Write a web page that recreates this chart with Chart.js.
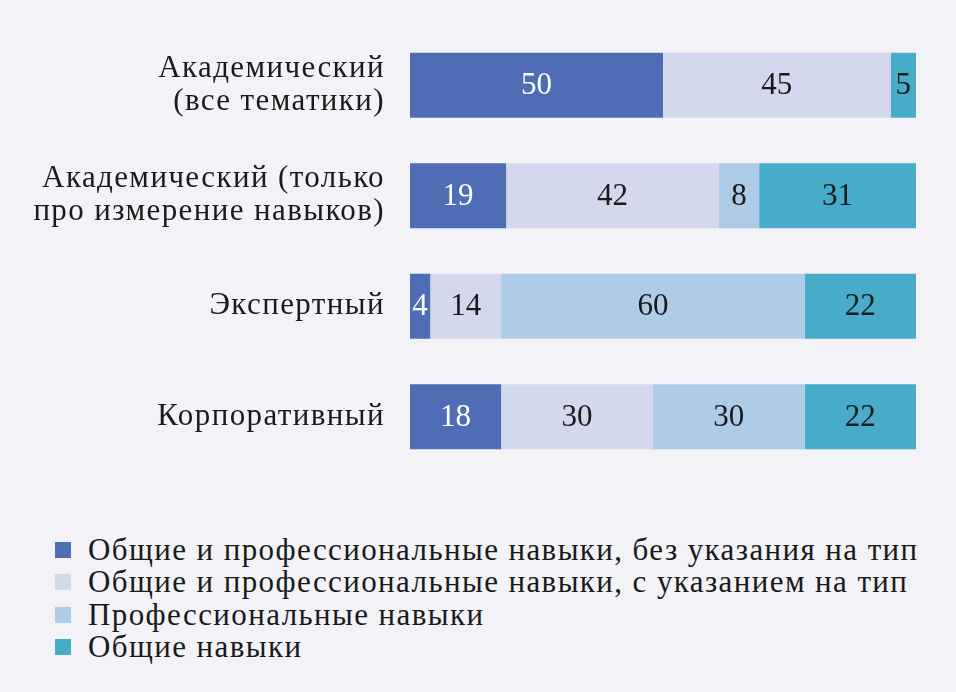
<!DOCTYPE html>
<html>
<head>
<meta charset="utf-8">
<script src="https://cdn.jsdelivr.net/npm/chart.js@4"></script>
<style>
  html, body { margin: 0; padding: 0; background: #f2f2f7; }
  #wrap { position: absolute; left: 0; top: 0; width: 956px; height: 500px; }
  #legend { position: absolute; left: 55px; top: 534px; font-family: "Liberation Serif", serif; font-size: 31px; letter-spacing: 1.4px; color: #1a1a1a; line-height: 32.3px; }
  #legend div { white-space: nowrap; }
  #legend span { display: inline-block; width: 16px; height: 16px; margin-right: 17px; vertical-align: 2px; }
</style>
</head>
<body>
<div id="wrap"><canvas id="grafico"></canvas></div>
<div id="legend"></div>
<script>
const categorias = [
    ['Академический', '(все тематики)'],
    ['Академический (только', 'про измерение навыков)'],
    'Экспертный',
    'Корпоративный'
];
const series = [
    'Общие и профессиональные навыки, без указания на тип',
    'Общие и профессиональные навыки, с указанием на тип',
    'Профессиональные навыки',
    'Общие навыки'
];
const sinTipo     = [50, 19, 4, 18];
const conTipo     = [45, 42, 14, 30];
const profesional = [0, 8, 60, 30];
const generales   = [5, 31, 22, 22];
const colores = ['#4e6db4', '#d3d8ec', '#aecbe8', '#47acc8'];
const colorTexto = ['#ffffff', '#1a1a1a', '#1a1a1a', '#1a1a1a'];
const fuente = '"Liberation Serif", serif';

const valores = [sinTipo, conTipo, profesional, generales];

// espaciado de letras para acercarse al ancho de la tipografía original
const espaciado = {
    id: 'espaciado',
    beforeDraw(chart) { chart.ctx.letterSpacing = '1.4px'; }
};

const etiquetas = {
    id: 'etiquetas',
    afterDatasetsDraw(chart) {
        const ctx = chart.ctx;
        ctx.save();
        ctx.letterSpacing = '0px';
        ctx.font = '31px ' + fuente;
        ctx.textAlign = 'center';
        ctx.textBaseline = 'middle';
        chart.data.datasets.forEach((ds, i) => {
            chart.getDatasetMeta(i).data.forEach((bar, j) => {
                const v = ds.data[j];
                if (!v) return;
                const x = (bar.x + bar.base) / 2;
                ctx.fillStyle = colorTexto[i];
                ctx.fillText(String(v), x, bar.y + 1);
            });
        });
        ctx.restore();
    }
};

new Chart(document.getElementById('grafico'), {
    type: 'bar',
    data: {
        labels: categorias,
        datasets: valores.map((v, i) => ({
            label: series[i],
            data: v,
            backgroundColor: colores[i],
            borderWidth: 0,
            categoryPercentage: 1,
            barPercentage: 0.59
        }))
    },
    options: {
        indexAxis: 'y',
        responsive: true,
        maintainAspectRatio: false,
        animation: false,
        layout: { padding: { top: 30, bottom: 28, right: 40, left: 0 } },
        plugins: { legend: { display: false }, tooltip: { enabled: false } },
        scales: {
            x: { stacked: true, min: 0, max: 100, display: false },
            y: {
                stacked: true,
                grid: { display: false },
                border: { display: false },
                ticks: { color: '#1a1a1a', padding: 17, font: { family: fuente, size: 31, lineHeight: 1.07 } },
                afterFit(scale) {
                    scale.width = 410;
                    scale.paddingTop = 0;
                    scale.paddingBottom = 0;
                }
            }
        }
    },
    plugins: [espaciado, etiquetas]
});

const leyenda = document.getElementById('legend');
series.forEach((s, i) => {
    const fila = document.createElement('div');
    const cuadro = document.createElement('span');
    cuadro.style.background = colores[i];
    fila.appendChild(cuadro);
    fila.appendChild(document.createTextNode(s));
    leyenda.appendChild(fila);
});
</script>
</body>
</html>
